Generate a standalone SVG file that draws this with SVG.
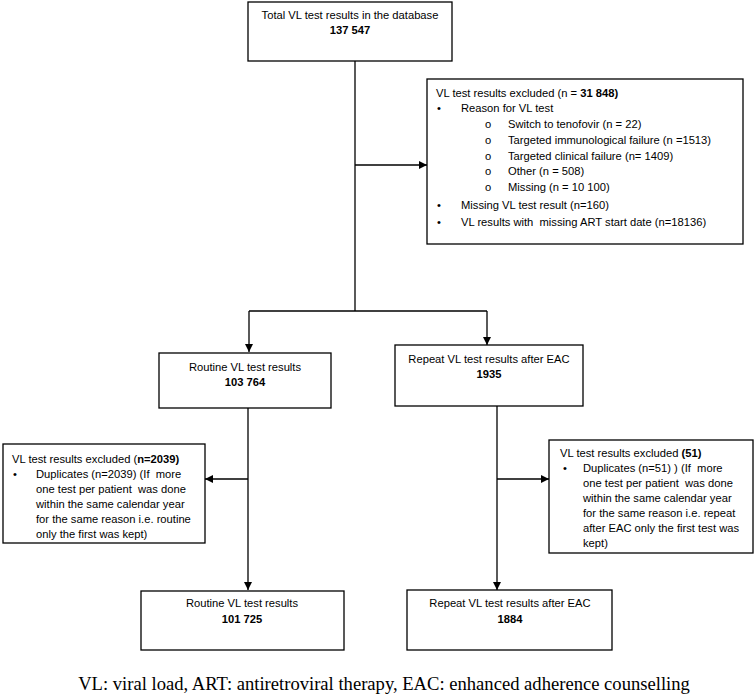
<svg xmlns="http://www.w3.org/2000/svg" width="755" height="697" viewBox="0 0 755 697">
<style>
.box{fill:#fff;stroke:#000;stroke-width:1.3}
.t{font-family:"Liberation Sans",Arial,sans-serif;font-size:11.2px;fill:#000;white-space:pre}
.c{text-anchor:middle}
.b{font-weight:bold}
.ln{fill:none;stroke:#000;stroke-width:1.3}
.cap{font-family:"Liberation Serif","Times New Roman",serif;font-size:18.6px;fill:#000;text-anchor:middle}
</style>
<defs>
<marker id="ah" viewBox="0 0 10 10" refX="10" refY="5" markerWidth="8" markerHeight="8" markerUnits="userSpaceOnUse" orient="auto">
<path d="M0,0 L10,5 L0,10 z" fill="#000"/>
</marker>
</defs>
<rect width="755" height="697" fill="#fff"/>
<g id="connectors">
<path class="ln" d="M355,61 V311"/>
<path class="ln" d="M355,165 H427" marker-end="url(#ah)"/>
<path class="ln" d="M249,311 H487"/>
<path class="ln" d="M249,311 V352" marker-end="url(#ah)"/>
<path class="ln" d="M487,311 V345" marker-end="url(#ah)"/>
<path class="ln" d="M248,408 V590" marker-end="url(#ah)"/>
<path class="ln" d="M248,479 H205" marker-end="url(#ah)"/>
<path class="ln" d="M497,406 V590" marker-end="url(#ah)"/>
<path class="ln" d="M497,479 H549" marker-end="url(#ah)"/>
</g>
<g id="total">
<rect class="box" x="248" y="2" width="204" height="59"/>
<text class="t c" x="350" y="19">Total VL test results in the database</text>
<text class="t c b" x="350" y="34">137 547</text>
</g>
<g id="excluded1">
<rect class="box" x="427" y="79" width="316" height="165"/>
<text class="t" x="436" y="97">VL test results excluded (n = <tspan class="b">31 848)</tspan></text>
<text class="t" x="437" y="112">•</text><text class="t" x="461" y="112">Reason for VL test</text>
<text class="t" x="485" y="128">o</text><text class="t" x="508" y="128">Switch to tenofovir (n = 22)</text>
<text class="t" x="485" y="144">o</text><text class="t" x="508" y="144">Targeted immunological failure (n =1513)</text>
<text class="t" x="485" y="160">o</text><text class="t" x="508" y="160">Targeted clinical failure (n= 1409)</text>
<text class="t" x="485" y="175">o</text><text class="t" x="508" y="175">Other (n = 508)</text>
<text class="t" x="485" y="191">o</text><text class="t" x="508" y="191">Missing (n = 10 100)</text>
<text class="t" x="437" y="209">•</text><text class="t" x="461" y="209">Missing VL test result (n=160)</text>
<text class="t" x="437" y="226">•</text><text class="t" x="461" y="226">VL results with  missing ART start date (n=18136)</text>
</g>
<g id="routine1">
<rect class="box" x="159" y="353" width="172" height="55"/>
<text class="t c" x="245" y="371">Routine VL test results</text>
<text class="t c b" x="245" y="386">103 764</text>
</g>
<g id="repeat1">
<rect class="box" x="395" y="345" width="188" height="61"/>
<text class="t c" x="489" y="363">Repeat VL test results after EAC</text>
<text class="t c b" x="489" y="378">1935</text>
</g>
<g id="excluded2">
<rect class="box" x="3" y="444" width="202" height="99"/>
<text class="t" x="12" y="463">VL test results excluded (<tspan class="b">n=2039)</tspan></text>
<text class="t" x="13" y="478">•</text><text class="t" x="36" y="478">Duplicates (n=2039) (If  more</text>
<text class="t" x="36" y="493">one test per patient  was done</text>
<text class="t" x="36" y="508">within the same calendar year</text>
<text class="t" x="36" y="523">for the same reason i.e. routine</text>
<text class="t" x="36" y="538">only the first was kept)</text>
</g>
<g id="excluded3">
<rect class="box" x="549" y="440" width="204" height="113"/>
<text class="t" x="560" y="457">VL test results excluded <tspan class="b">(51)</tspan></text>
<text class="t" x="563" y="472">•</text><text class="t" x="583" y="472">Duplicates (n=51) ) (If  more</text>
<text class="t" x="583" y="487">one test per patient  was done</text>
<text class="t" x="583" y="502">within the same calendar year</text>
<text class="t" x="583" y="517">for the same reason i.e. repeat</text>
<text class="t" x="583" y="532">after EAC only the first test was</text>
<text class="t" x="583" y="547">kept)</text>
</g>
<g id="routine2">
<rect class="box" x="141" y="591" width="203" height="59"/>
<text class="t c" x="242" y="607">Routine VL test results</text>
<text class="t c b" x="242" y="623">101 725</text>
</g>
<g id="repeat2">
<rect class="box" x="407" y="590" width="205" height="60"/>
<text class="t c" x="510" y="607">Repeat VL test results after EAC</text>
<text class="t c b" x="510" y="623">1884</text>
</g>
<text class="cap" x="384" y="690">VL: viral load, ART: antiretroviral therapy, EAC: enhanced adherence counselling</text>
</svg>
